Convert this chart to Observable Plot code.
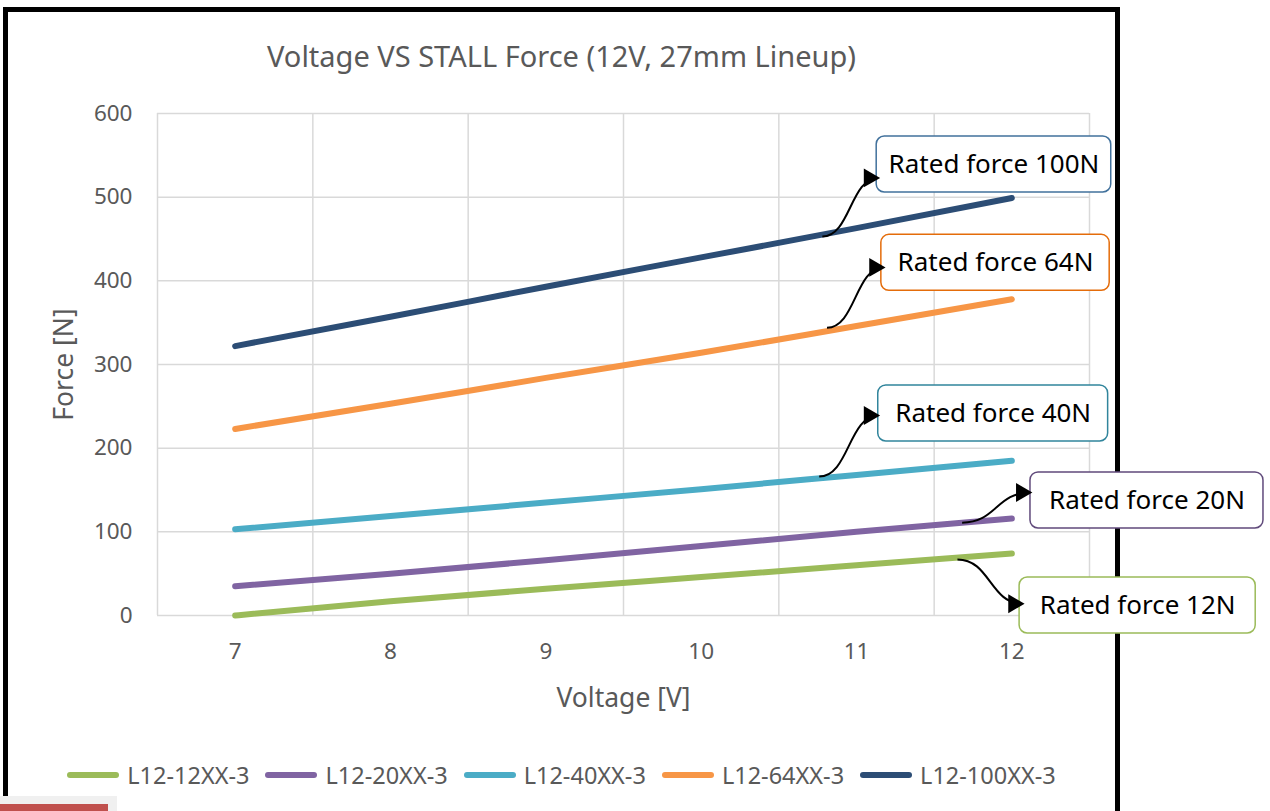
<!DOCTYPE html>
<html><head><meta charset="utf-8">
<script src="https://cdn.jsdelivr.net/npm/d3@7"></script>
<script src="https://cdn.jsdelivr.net/npm/@observablehq/plot@0.6"></script>
<style>
html,body{margin:0;padding:0;background:#fff;overflow:hidden;width:1270px;height:811px;}
#wrap{position:relative;width:1270px;height:811px;font-family:"Noto Sans",sans-serif;overflow:hidden;}
#frame{position:absolute;left:3px;top:7px;width:1107px;height:900px;border:5px solid #000;}
#title{position:absolute;left:8px;width:1107px;top:36px;text-align:center;font-size:29px;color:#595959;white-space:nowrap;}
#chart{position:absolute;left:0;top:0;}
#legend{position:absolute;left:8px;width:1107px;top:759px;display:flex;justify-content:center;font-size:23.5px;color:#595959;white-space:nowrap;}
.item{display:flex;align-items:center;margin:0 8px;}
.sw{width:52px;height:6px;border-radius:3px;margin-right:8px;}
#gray{position:absolute;left:0;top:796px;width:117px;height:20px;background:#f0f0f0;}
#red{position:absolute;left:0;top:804px;width:108px;height:10px;background:#C0504D;}
</style></head>
<body><div id="wrap">
<div id="frame"></div>
<div id="title"></div>
<div id="chart"></div>
<div id="legend"></div>
<div id="gray"></div><div id="red"></div>
</div>
<script>
// ---- data ----
const titleText = "Voltage VS STALL Force (12V, 27mm Lineup)";
const xLabel = "Voltage [V]";
const yLabel = "Force [N]";
const voltage = [7, 8, 9, 10, 11, 12];
const series = ["L12-12XX-3", "L12-20XX-3", "L12-40XX-3", "L12-64XX-3", "L12-100XX-3"];
const force12 = [0, 17, 32, 46, 60, 74];
const force20 = [35, 50, 66, 83, 100, 116];
const force40 = [103, 119, 135, 151, 168, 185];
const force64 = [223, 253, 284, 314, 346, 378];
const force100 = [322, 357, 393, 428, 463, 499];
const seriesColors = ["#9BBB59", "#8064A2", "#4BACC6", "#F79646", "#2C4D75"];
const yTicks = [0, 100, 200, 300, 400, 500, 600];

// callout annotations (data coordinates)
const calloutText = ["Rated force 12N", "Rated force 20N", "Rated force 40N", "Rated force 64N", "Rated force 100N"];
const arrowStartV = [11.65, 11.68, 10.76, 10.81, 10.78];
const arrowStartF = [67, 111, 166, 344, 453];
const arrowTipV = [12.07, 12.12, 11.14, 11.175, 11.14];
const arrowTipF = [14, 147, 239, 416, 523];
const boxV1 = [12.05, 12.12, 11.14, 11.16, 11.13];
const boxV2 = [13.57, 13.62, 12.62, 12.63, 12.64];
const boxF1 = [-21.5, 104, 208, 388, 505.6];
const boxF2 = [45.4, 171, 275, 455, 572.5];
const boxBorder = ["#9BBB59", "#604A7B", "#31859C", "#E46C0A", "#41719C"];

// ---- build ----
const forces = [force12, force20, force40, force64, force100];
const rows = series.flatMap((s, i) => voltage.map((v, j) => ({series: s, v, f: forces[i][j]})));
const callouts = calloutText.map((t, i) => ({
  text: t, sv: arrowStartV[i], sf: arrowStartF[i], tv: arrowTipV[i], tf: arrowTipF[i],
  x1: boxV1[i], x2: boxV2[i], y1: boxF1[i], y2: boxF2[i],
  cx: (boxV1[i] + boxV2[i]) / 2, cy: (boxF1[i] + boxF2[i]) / 2, border: boxBorder[i]
}));
const gridXs = voltage.map(v => v - 0.5).concat([voltage[voltage.length - 1] + 0.5]);

document.getElementById("title").textContent = titleText;

const chart = Plot.plot({
  width: 1270, height: 740,
  marginLeft: 157, marginRight: 181, marginTop: 113, marginBottom: 125,
  x: {domain: [6.5, 12.5]},
  y: {domain: [0, 600]},
  color: {domain: series, range: seriesColors},
  style: {fontFamily: "'Noto Sans', sans-serif", fontSize: "22.5px", color: "#595959", background: "transparent", overflow: "visible"},
  marks: [
    Plot.gridX(gridXs, {stroke: "#D9D9D9", strokeOpacity: 1, strokeWidth: 1.5}),
    Plot.gridY(yTicks, {stroke: "#D9D9D9", strokeOpacity: 1, strokeWidth: 1.5}),
    Plot.axisX(voltage, {tickSize: 0, tickPadding: 28, label: null, fontSize: 22.5, tickFormat: "d"}),
    Plot.axisY(yTicks, {tickSize: 0, tickPadding: 25, label: null, fontSize: 22.5, tickFormat: "d"}),
    Plot.line(rows, {x: "v", y: "f", z: "series", stroke: "series", strokeWidth: 6, curve: "monotone-x", strokeLinecap: "round"}),
    Plot.link(callouts, {x1: "sv", y1: "sf", x2: "tv", y2: "tf", curve: "bump-x", stroke: "black", strokeWidth: 2}),
    ...callouts.map(c => Plot.rect([c], {x1: "x1", x2: "x2", y1: "y1", y2: "y2", fill: "white", stroke: c.border, strokeWidth: 1.5, rx: 8})),
    Plot.dot(callouts, {x: "tv", y: "tf", symbol: "triangle", r: 7, fill: "black", stroke: "none", rotate: 90, dx: -9}),
    Plot.text(callouts, {x: "cx", y: "cy", text: "text", fontSize: 26, fill: "black"}),
    Plot.text([yLabel], {frameAnchor: "left", dx: -93, rotate: -90, fontSize: 26.5, textAnchor: "middle", lineAnchor: "middle", text: d => d}),
    Plot.text([xLabel], {frameAnchor: "bottom", dy: 83, fontSize: 26.5, textAnchor: "middle", lineAnchor: "middle", text: d => d})
  ]
});
document.getElementById("chart").appendChild(chart);

const legend = document.getElementById("legend");
series.forEach((s, i) => {
  const it = document.createElement("div"); it.className = "item";
  const sw = document.createElement("div"); sw.className = "sw"; sw.style.background = seriesColors[i];
  const tx = document.createElement("span"); tx.textContent = s;
  it.appendChild(sw); it.appendChild(tx); legend.appendChild(it);
});
</script>
</body></html>
